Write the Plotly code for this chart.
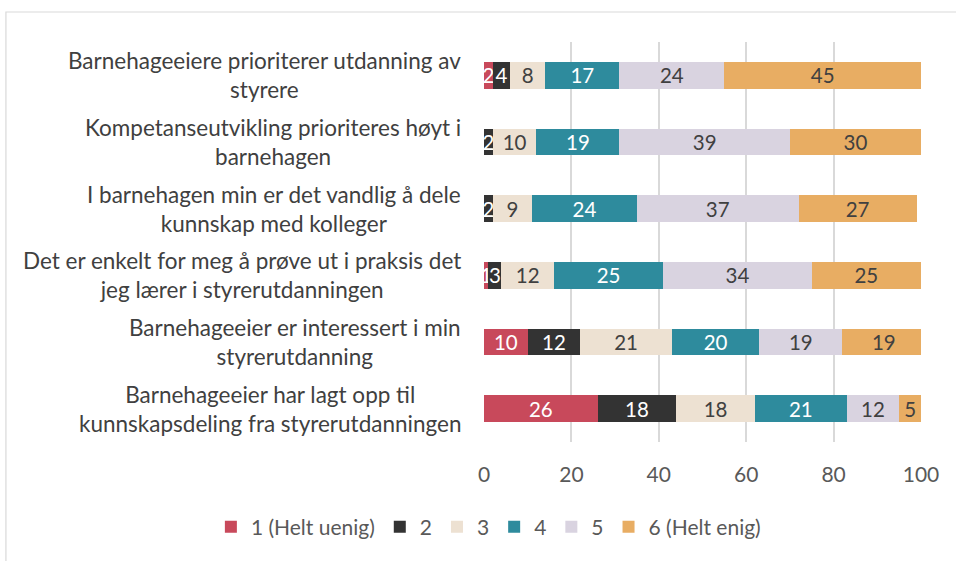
import plotly.graph_objects as go

categories = [
    "Barnehageeiere prioriterer utdanning av<br>styrere",
    "Kompetanseutvikling prioriteres høyt i<br>barnehagen",
    "I barnehagen min er det vandlig å dele<br>kunnskap med kolleger",
    "Det er enkelt for meg å prøve ut i praksis det<br>jeg lærer i styrerutdanningen",
    "Barnehageeier er interessert i min<br>styrerutdanning",
    "Barnehageeier har lagt opp til<br>kunnskapsdeling fra styrerutdanningen",
]
series_names = ["1 (Helt uenig)", "2", "3", "4", "5", "6 (Helt enig)"]
values = {
    "1 (Helt uenig)": [2, 0, 0, 1, 10, 26],
    "2": [4, 2, 2, 3, 12, 18],
    "3": [8, 10, 9, 12, 21, 18],
    "4": [17, 19, 24, 25, 20, 21],
    "5": [24, 39, 37, 34, 19, 12],
    "6 (Helt enig)": [45, 30, 27, 25, 19, 5],
}
x_ticks = [0, 20, 40, 60, 80, 100]

colors = ["#C8495B", "#333333", "#EDE1D2", "#2E8B9D", "#D9D3E0", "#E8AD63"]
text_colors = ["#FFFFFF", "#FFFFFF", "#404040", "#FFFFFF", "#404040", "#404040"]

FONT = "Lato, Carlito, Calibri, sans-serif"

fig = go.Figure()
for name, col, tcol in zip(series_names, colors, text_colors):
    vals = values[name]
    fig.add_trace(go.Bar(
        y=categories, x=vals, name=name, orientation="h",
        marker=dict(color=col, line=dict(width=0)),
        text=[str(v) if v else "" for v in vals],
        textposition="inside", insidetextanchor="middle", textangle=0,
        constraintext="none",
        insidetextfont=dict(color=tcol, size=20.5, family=FONT),
        hoverinfo="skip",
    ))

annotations = []
for c in categories:
    annotations.append(dict(
        x=0, xref="paper", xanchor="right", xshift=-21,
        y=c, yref="y", yanchor="middle",
        text=c, align="center", showarrow=False,
        font=dict(size=22.5, color="#404040", family=FONT),
    ))

fig.update_layout(
    width=956, height=561,
    margin=dict(l=483.5, r=35, t=42, b=119),
    paper_bgcolor="white", plot_bgcolor="white",
    barmode="stack", bargap=0.6,
    uniformtext=dict(mode="show", minsize=20.5),
    font=dict(family=FONT, color="#595959"),
    xaxis=dict(range=[0, 100], tickvals=x_ticks, showgrid=True, gridcolor="#D9D9D9",
               gridwidth=1.5, zeroline=False, showline=False, ticks="",
               ticklabelstandoff=18,
               tickfont=dict(size=21, color="#595959", family=FONT)),
    yaxis=dict(categoryorder="array", categoryarray=categories, autorange="reversed",
               showticklabels=False, showgrid=False, zeroline=False, showline=False),
    legend=dict(orientation="h", xref="paper", x=-0.625, xanchor="left",
                yref="paper", y=-0.2125, yanchor="middle",
                font=dict(size=21, color="#595959", family=FONT),
                itemwidth=30, traceorder="normal", tracegroupgap=0),
    annotations=annotations,
    shapes=[dict(type="rect", xref="paper", yref="paper",
                 x0=-1.094, x1=1.2, y0=-0.35, y1=1.075,
                 line=dict(color="#D9D9D9", width=1.2), fillcolor="rgba(0,0,0,0)",
                 layer="below")],
)

fig.write_html("out.html", config={"displayModeBar": False},
               post_script="document.body.style.margin='0';")
